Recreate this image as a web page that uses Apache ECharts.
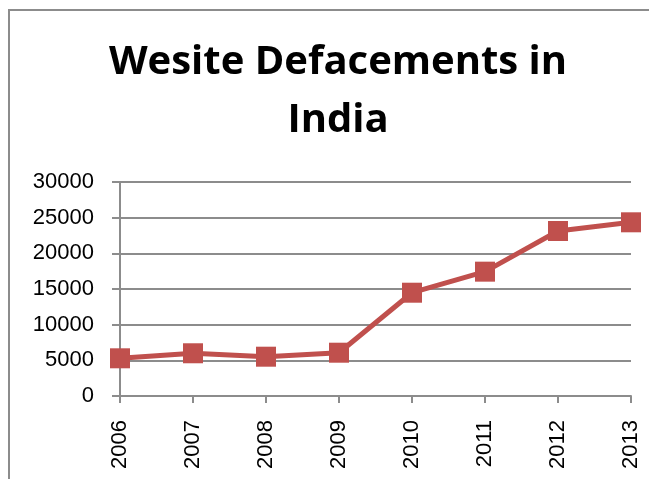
<!DOCTYPE html>
<html>
<head>
<meta charset="utf-8">
<script src="https://cdn.jsdelivr.net/npm/echarts@6/dist/echarts.min.js"></script>
<style>
html,body{margin:0;padding:0;background:#fff;}
#chart{width:649px;height:479px;}
</style>
</head>
<body>
<div id="chart"></div>
<script>
const categories = ['2006','2007','2008','2009','2010','2011','2012','2013'];
const defacements = [5285, 5990, 5510, 6070, 14480, 17430, 23130, 24350];
const yTicks = [0, 5000, 10000, 15000, 20000, 25000, 30000];

const chart = echarts.init(document.getElementById('chart'));
chart.setOption({
  animation: false,
  backgroundColor: '#fff',
  title: {
    text: 'Wesite Defacements in\nIndia',
    left: 333,
    top: 29,
    textAlign: 'center',
    textStyle: {
      fontFamily: 'Open Sans',
      fontWeight: 'bold',
      fontSize: 40,
      lineHeight: 58,
      color: '#000'
    }
  },
  graphic: [{
    type: 'rect',
    shape: {x: 9, y: 10, width: 700, height: 520},
    style: {fill: 'none', stroke: '#8c8c8c', lineWidth: 2},
    silent: true
  }],
  grid: {left: 120, right: 18, top: 182, bottom: 83},
  xAxis: {
    type: 'category',
    data: categories,
    boundaryGap: false,
    axisLine: {lineStyle: {color: '#8c8c8c', width: 2}},
    axisTick: {alignWithLabel: true, length: 7, lineStyle: {color: '#8c8c8c', width: 2}},
    axisLabel: {rotate: 90, margin: 24, color: '#000', fontFamily: 'Liberation Sans', fontSize: 22}
  },
  yAxis: {
    type: 'value',
    min: yTicks[0],
    max: yTicks[yTicks.length - 1],
    interval: 5000,
    axisLine: {show: true, lineStyle: {color: '#8c8c8c', width: 2}},
    axisTick: {show: true, length: 8, lineStyle: {color: '#8c8c8c', width: 2}},
    splitLine: {lineStyle: {color: '#8c8c8c', width: 2}},
    axisLabel: {margin: 26, color: '#000', fontFamily: 'Liberation Sans', fontSize: 22,
      formatter: function (v) { return String(v); }}
  },
  series: [{
    type: 'line',
    data: defacements,
    symbol: 'rect',
    symbolSize: 20,
    lineStyle: {color: '#C0504D', width: 5},
    itemStyle: {color: '#C0504D'}
  }]
});
</script>
</body>
</html>
